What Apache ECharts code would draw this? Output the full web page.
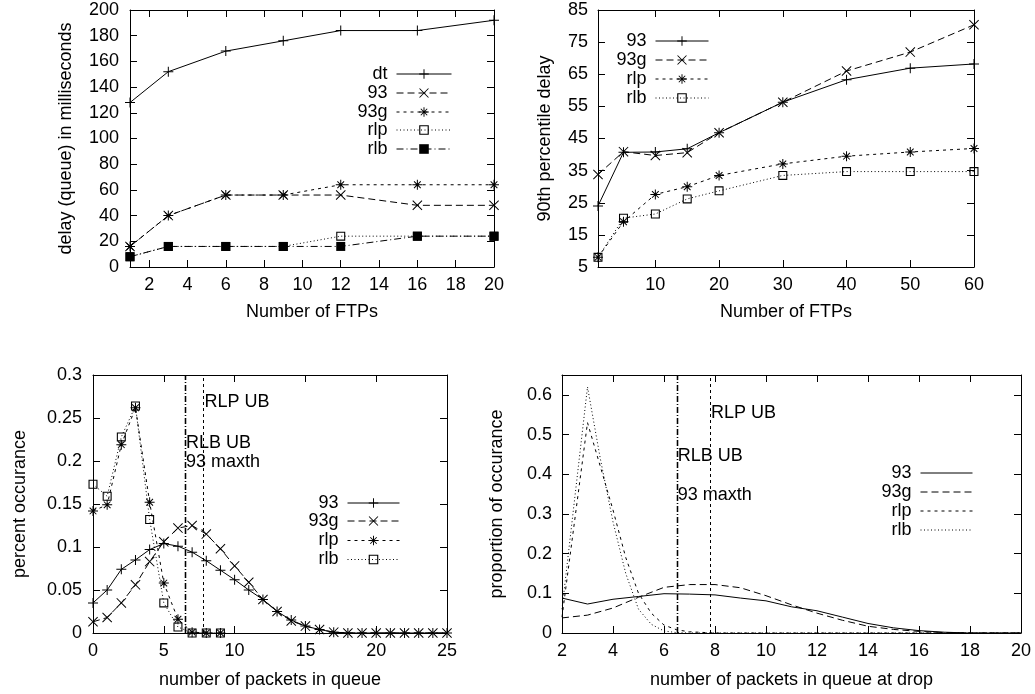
<!DOCTYPE html>
<html>
<head>
<meta charset="utf-8">
<script src="https://cdn.jsdelivr.net/npm/echarts@6/dist/echarts.min.js"></script>
<style>
  html, body { margin: 0; padding: 0; background: #fff; }
  #chart { width: 1035px; height: 694px; }
</style>
</head>
<body>
<div id="chart"></div>
<script>
// ---- Panel A: mean queueing delay vs number of FTPs ----
const ftpCountsA = [1, 3, 6, 9, 12, 16, 20];
const ftpTicksA = [2, 4, 6, 8, 10, 12, 14, 16, 18, 20];
const delayDt  = [128, 152, 168, 176, 184, 184, 192];
const delay93  = [16, 40, 56, 56, 56, 48, 48];
const delay93g = [16, 40, 56, 56, 64, 64, 64];
const delayRlp = [8, 16, 16, 16, 24, 24, 24];
const delayRlb = [8, 16, 16, 16, 16, 24, 24];

// ---- Panel B: 90th percentile delay vs number of FTPs ----
const ftpCountsB = [1, 5, 10, 15, 20, 30, 40, 50, 60];
const ftpTicksB = [10, 20, 30, 40, 50, 60];
const p90Ticks = [5, 15, 25, 35, 45, 55, 65, 75, 85];
const p90_93  = [24, 40.7, 40.8, 41.8, 46.8, 56.3, 63.3, 66.9, 68.2];
const p90_93g = [33.8, 40.9, 39.7, 40.6, 46.8, 56.3, 66.0, 71.9, 80.4];
const p90Rlp  = [8, 19.1, 27.6, 30.0, 33.5, 37.1, 39.5, 40.8, 41.9];
const p90Rlb  = [8, 20.2, 21.5, 26.2, 28.7, 33.5, 34.7, 34.7, 34.7];

// ---- Panel C: queue length distribution ----
const queueLen = [0, 1, 2, 3, 4, 5, 6, 7, 8, 9, 10, 11, 12, 13, 14, 15, 16, 17, 18, 19, 20, 21, 22, 23, 24, 25];
const occ93  = [0.035, 0.050, 0.074, 0.085, 0.097, 0.104, 0.101, 0.094, 0.084, 0.073, 0.062, 0.050, 0.039,
                0.025, 0.015, 0.008, 0.004, 0.001, 0, 0, 0, 0, 0, 0, 0, 0];
const occ93g = [0.013, 0.018, 0.035, 0.056, 0.083, 0.106, 0.122, 0.125, 0.115, 0.098, 0.078, 0.059, 0.039,
                0.025, 0.014, 0.008, 0.004, 0.001, 0, 0, 0, 0, 0, 0, 0, 0];
const queueLenRl = [0, 1, 2, 3, 4, 5, 6, 7, 8, 9];
const occRlp = [0.142, 0.149, 0.219, 0.262, 0.152, 0.058, 0.016, 0.001, 0, 0];
const occRlb = [0.173, 0.159, 0.228, 0.264, 0.132, 0.035, 0.007, 0, 0, 0];

// ---- Panel D: queue length at drop ----
const dropLen = [2, 3, 4, 5, 6, 7, 8, 9, 10, 11, 12, 13, 14, 15, 16, 17, 18, 19, 20];
const drop93  = [0.088, 0.073, 0.085, 0.092, 0.099, 0.098, 0.096, 0.088, 0.081, 0.066, 0.056, 0.040,
                 0.024, 0.013, 0.006, 0.002, 0, 0, 0];
const drop93g = [0.038, 0.045, 0.063, 0.090, 0.115, 0.122, 0.122, 0.114, 0.094, 0.071, 0.050, 0.032,
                 0.017, 0.009, 0.004, 0.001, 0, 0, 0];
const dropLenRl = [2, 3, 3.5, 4, 4.5, 5, 5.5, 6, 6.5, 7, 8, 20];
const dropRlp = [0.040, 0.530, 0.420, 0.310, 0.190, 0.100, 0.050, 0.020, 0.008, 0.003, 0, 0];
const dropRlb = [0.060, 0.620, 0.440, 0.280, 0.150, 0.060, 0.022, 0.005, 0.001, 0, 0, 0];
const dropTicksY = [0, 0.1, 0.2, 0.3, 0.4, 0.5, 0.6];

// ---- Bound markers (panels C and D) ----
const boundNames = ['RLB UB', '93 maxth', 'RLP UB'];
const boundX = [6.5, 6.5, 7.8];
const boundLabelYC = [0.221, 0.199, 0.269];
const boundLabelYD = [0.445, 0.347, 0.553];

const FONT = "'Liberation Sans', Arial, Helvetica, sans-serif";
const BLACK = '#000';
const FS = 18;

// gnuplot-like point shapes, built as filled outlines
const SYM = {
  plus: 'path://M0,4.5L10,4.5L10,5.5L0,5.5Z M4.5,0L5.5,0L5.5,10L4.5,10Z',
  cross: 'path://M0.7,0L10,9.3L9.3,10L0,0.7Z M9.3,0L10,0.7L0.7,10L0,9.3Z',
  star: 'path://M0,4.5L10,4.5L10,5.5L0,5.5Z M4.5,0L5.5,0L5.5,10L4.5,10Z M2.0,1.3L8.7,8.0L8.0,8.7L1.3,2.0Z M8.0,1.3L8.7,2.0L2.0,8.7L1.3,8.0Z',
  box: 'path://M0,0L10,0L10,10L0,10Z M1.2,1.2L1.2,8.8L8.8,8.8L8.8,1.2Z',
  boxFilled: 'rect'
};
const DASH = {
  solid: 'solid',
  dashed: [7, 4],
  short: [3, 4],
  dotted: [1, 2.5],
  dashdot: [7, 3, 1, 3]
};

const grids = [
  { left: 130, top: 10,  width: 364, height: 257 },
  { left: 598, top: 10,  width: 376, height: 257 },
  { left: 93,  top: 375, width: 354, height: 258 },
  { left: 562, top: 375, width: 459, height: 258 }
];

const textStyle = { color: BLACK, fontFamily: FONT, fontSize: FS };

function axis(g, pos, cfg) {
  const isMain = pos === 'bottom' || pos === 'left';
  const a = {
    type: 'value',
    gridIndex: g,
    position: pos,
    min: cfg.min,
    max: cfg.max,
    axisLine: { show: true, onZero: false, lineStyle: { color: BLACK, width: 1 } },
    axisTick: { show: true, inside: true, length: 7, lineStyle: { color: BLACK, width: 1 } },
    axisLabel: Object.assign({ show: isMain, margin: 9 }, textStyle),
    splitLine: { show: false }
  };
  if (cfg.interval !== undefined) a.interval = cfg.interval;
  if (cfg.ticks) {
    a.axisTick.customValues = cfg.ticks;
    a.axisLabel.customValues = cfg.ticks;
  }
  if (isMain && cfg.name) {
    a.name = cfg.name;
    a.nameLocation = 'middle';
    a.nameGap = cfg.nameGap;
    a.nameTextStyle = Object.assign({}, textStyle);
  }
  if (isMain && cfg.labelMargin !== undefined) a.axisLabel.margin = cfg.labelMargin;
  return a;
}

const xCfg = [
  { min: 1, max: 20, ticks: ftpTicksA, name: 'Number of FTPs', nameGap: 36 },
  { min: 1, max: 60, ticks: ftpTicksB, name: 'Number of FTPs', nameGap: 36 },
  { min: 0, max: 25, interval: 5, name: 'number of packets in queue', nameGap: 38 },
  { min: 2, max: 20, interval: 2, name: 'number of packets in queue at drop', nameGap: 38 }
];
const yCfg = [
  { min: 0, max: 200, interval: 20, name: 'delay (queue) in milliseconds', nameGap: 55, labelMargin: 11 },
  { min: 5, max: 85, ticks: p90Ticks, name: '90th percentile delay', nameGap: 44, labelMargin: 10 },
  { min: 0, max: 0.3, interval: 0.05, name: 'percent occurance', nameGap: 64, labelMargin: 11 },
  { min: 0, max: 0.65, ticks: dropTicksY, name: 'proportion of occurance', nameGap: 56, labelMargin: 10 }
];

const xAxes = [], yAxes = [];
for (let g = 0; g < 4; g++) {
  xAxes.push(axis(g, 'bottom', xCfg[g]));
  xAxes.push(axis(g, 'top', xCfg[g]));
  yAxes.push(axis(g, 'left', yCfg[g]));
  yAxes.push(axis(g, 'right', yCfg[g]));
}

function zip(xs, ys) { return xs.map((x, i) => [x, ys[i]]); }

function lineSeries(g, label, xs, ys, dash, symbol, size) {
  return {
    type: 'line',
    name: 'p' + g + '|' + label,
    xAxisIndex: g * 2,
    yAxisIndex: g * 2,
    data: zip(xs, ys),
    symbol: symbol || 'none',
    symbolSize: size || 10,
    showSymbol: !!symbol,
    clip: false,
    silent: true,
    animation: false,
    lineStyle: { color: BLACK, width: 1, type: dash },
    itemStyle: { color: BLACK }
  };
}

const series = [
  lineSeries(0, 'dt',  ftpCountsA, delayDt,  DASH.solid,   SYM.plus),
  lineSeries(0, '93',  ftpCountsA, delay93,  DASH.dashed,  SYM.cross),
  lineSeries(0, '93g', ftpCountsA, delay93g, DASH.short,   SYM.star),
  lineSeries(0, 'rlp', ftpCountsA, delayRlp, DASH.dotted,  SYM.box, 9),
  lineSeries(0, 'rlb', ftpCountsA, delayRlb, DASH.dashdot, SYM.boxFilled, 9),

  lineSeries(1, '93',  ftpCountsB, p90_93,  DASH.solid,  SYM.plus),
  lineSeries(1, '93g', ftpCountsB, p90_93g, DASH.dashed, SYM.cross),
  lineSeries(1, 'rlp', ftpCountsB, p90Rlp,  DASH.short,  SYM.star),
  lineSeries(1, 'rlb', ftpCountsB, p90Rlb,  DASH.dotted, SYM.box, 9),

  lineSeries(2, '93',  queueLen,   occ93,  DASH.solid,  SYM.plus),
  lineSeries(2, '93g', queueLen,   occ93g, DASH.dashed, SYM.cross),
  lineSeries(2, 'rlp', queueLenRl, occRlp, DASH.short,  SYM.star),
  lineSeries(2, 'rlb', queueLenRl, occRlb, DASH.dotted, SYM.box, 9),

  lineSeries(3, '93',  dropLen,   drop93,  DASH.solid),
  lineSeries(3, '93g', dropLen,   drop93g, DASH.dashed),
  lineSeries(3, 'rlp', dropLenRl, dropRlp, DASH.short),
  lineSeries(3, 'rlb', dropLenRl, dropRlb, DASH.dotted)
];

// vertical bound lines with their text labels
const boundStyles = [
  { color: BLACK, width: 1.3, type: [6, 2, 1, 2] },
  { color: BLACK, width: 1.3, type: [6, 2, 1, 2] },
  { color: BLACK, width: 1, type: [3, 3] }
];
function boundSeries(g, labelYs) {
  return {
    type: 'scatter',
    name: 'bounds' + g,
    xAxisIndex: g * 2,
    yAxisIndex: g * 2,
    symbolSize: 0,
    silent: true,
    animation: false,
    itemStyle: { color: BLACK, opacity: 1 },
    data: boundNames.map((n, i) => ({ name: n, value: [boundX[i], labelYs[i]] })),
    label: Object.assign({ show: true, position: 'right', distance: 1, opacity: 1,
                           formatter: p => p.name }, textStyle),
    markLine: {
      symbol: 'none',
      silent: true,
      animation: false,
      label: { show: false },
      data: boundX.map((x, i) => ({ xAxis: x, lineStyle: boundStyles[i] }))
    }
  };
}
series.push(boundSeries(2, boundLabelYC));
series.push(boundSeries(3, boundLabelYD));

// legends: text right-aligned, sample line to its right
const legendRows = [
  { g: 0, right: 583, width: 55, marks: true,  labels: ['dt', '93', '93g', 'rlp', 'rlb'], ys: [75, 94, 113, 131, 150] },
  { g: 1, right: 326, width: 53, marks: true,  labels: ['93', '93g', 'rlp', 'rlb'], ys: [42, 61, 80, 99] },
  { g: 2, right: 635, width: 52, marks: true,  labels: ['93', '93g', 'rlp', 'rlb'], ys: [504, 522, 541.5, 560.5] },
  { g: 3, right: 62,  width: 52, marks: false, labels: ['93', '93g', 'rlp', 'rlb'], ys: [474, 493, 512, 531] }
];
const legends = [];
legendRows.forEach(row => {
  row.labels.forEach((lab, i) => {
    const lg = {
      data: ['p' + row.g + '|' + lab],
      orient: 'vertical',
      align: 'right',
      right: row.right,
      top: row.ys[i] - 10,
      padding: 0,
      itemGap: 0,
      itemWidth: row.width,
      itemHeight: 12,
      selectedMode: false,
      formatter: n => n.split('|')[1],
      lineStyle: { width: 1 },
      textStyle: Object.assign({ padding: [0, 4, 0, 0] }, textStyle)
    };
    if (!row.marks) lg.itemStyle = { opacity: 0 };
    legends.push(lg);
  });
});

const chart = echarts.init(document.getElementById('chart'), null, { renderer: 'canvas' });
chart.setOption({
  animation: false,
  backgroundColor: '#fff',
  textStyle: { fontFamily: FONT },
  grid: grids,
  xAxis: xAxes,
  yAxis: yAxes,
  legend: legends,
  series: series
});
</script>
</body>
</html>
